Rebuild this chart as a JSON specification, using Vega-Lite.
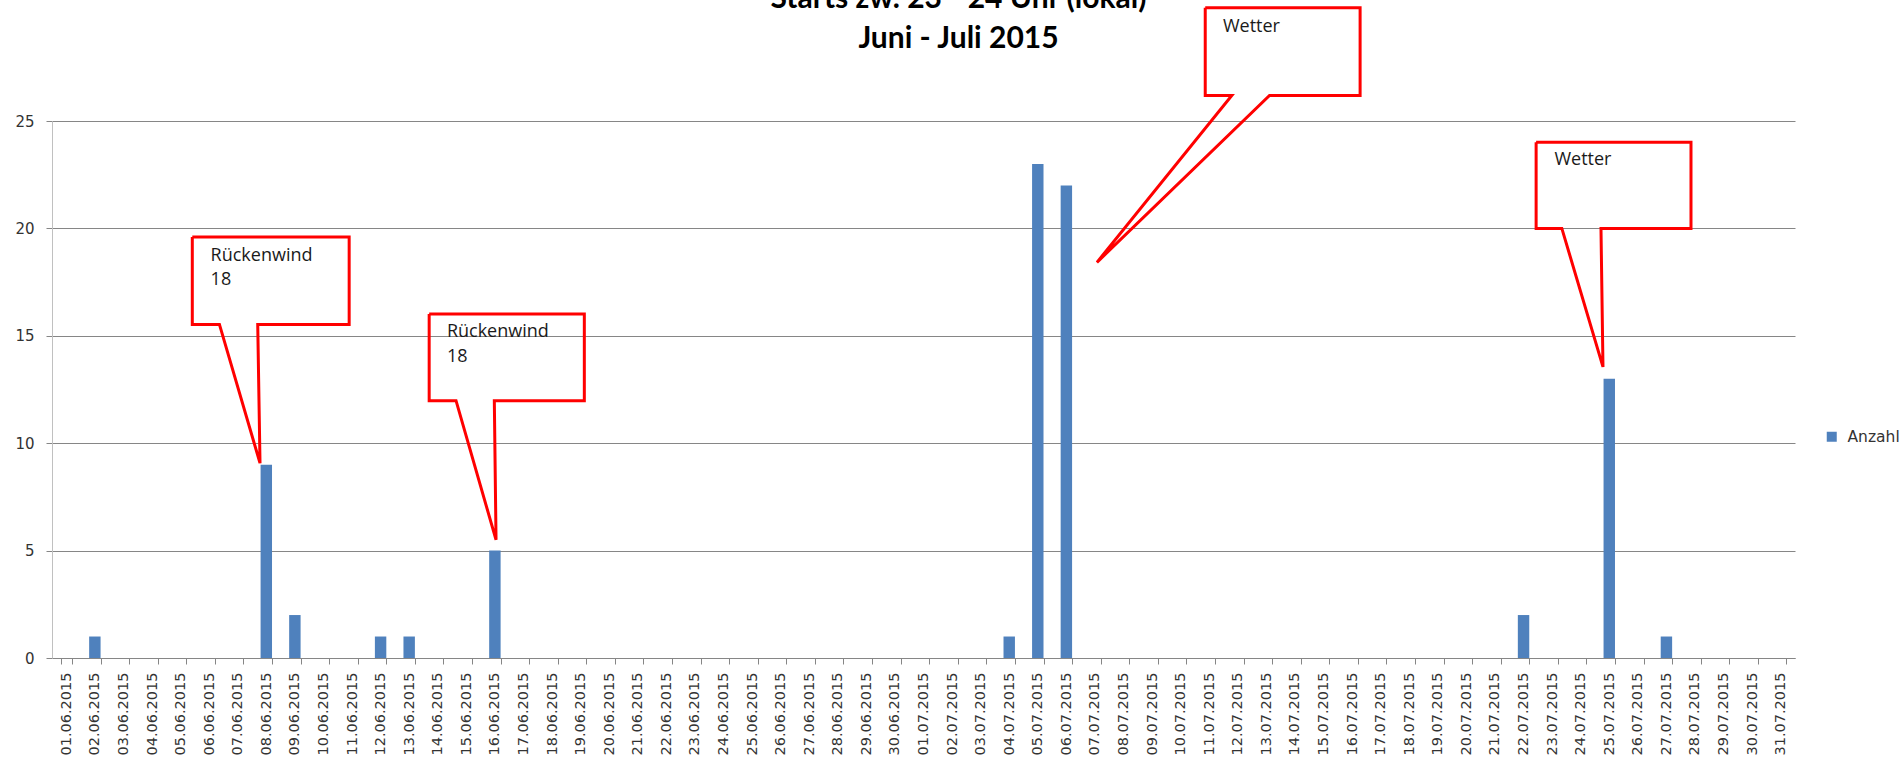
{
  "$schema": "https://vega.github.io/schema/vega-lite/v6.json",
  "autosize": "none",
  "width": 1743,
  "height": 537,
  "padding": {"left": 52, "top": 121, "right": 106, "bottom": 109},
  "background": "white",
  "config": {"view": {"stroke": null}},
  "title": {
    "text": ["Starts zw. 23 - 24 Uhr (lokal)", "Juni - Juli 2015"],
    "font": "Lato",
    "fontSize": 30,
    "fontWeight": "bold",
    "color": "#000000",
    "anchor": "middle",
    "dx": 35,
    "lineHeight": 40,
    "baseline": "alphabetic",
    "offset": -76
  },
  "datasets": {
    "bars": [
      {"Datum": "01.06.2015", "Anzahl": 0},
      {"Datum": "02.06.2015", "Anzahl": 1},
      {"Datum": "03.06.2015", "Anzahl": 0},
      {"Datum": "04.06.2015", "Anzahl": 0},
      {"Datum": "05.06.2015", "Anzahl": 0},
      {"Datum": "06.06.2015", "Anzahl": 0},
      {"Datum": "07.06.2015", "Anzahl": 0},
      {"Datum": "08.06.2015", "Anzahl": 9},
      {"Datum": "09.06.2015", "Anzahl": 2},
      {"Datum": "10.06.2015", "Anzahl": 0},
      {"Datum": "11.06.2015", "Anzahl": 0},
      {"Datum": "12.06.2015", "Anzahl": 1},
      {"Datum": "13.06.2015", "Anzahl": 1},
      {"Datum": "14.06.2015", "Anzahl": 0},
      {"Datum": "15.06.2015", "Anzahl": 0},
      {"Datum": "16.06.2015", "Anzahl": 5},
      {"Datum": "17.06.2015", "Anzahl": 0},
      {"Datum": "18.06.2015", "Anzahl": 0},
      {"Datum": "19.06.2015", "Anzahl": 0},
      {"Datum": "20.06.2015", "Anzahl": 0},
      {"Datum": "21.06.2015", "Anzahl": 0},
      {"Datum": "22.06.2015", "Anzahl": 0},
      {"Datum": "23.06.2015", "Anzahl": 0},
      {"Datum": "24.06.2015", "Anzahl": 0},
      {"Datum": "25.06.2015", "Anzahl": 0},
      {"Datum": "26.06.2015", "Anzahl": 0},
      {"Datum": "27.06.2015", "Anzahl": 0},
      {"Datum": "28.06.2015", "Anzahl": 0},
      {"Datum": "29.06.2015", "Anzahl": 0},
      {"Datum": "30.06.2015", "Anzahl": 0},
      {"Datum": "01.07.2015", "Anzahl": 0},
      {"Datum": "02.07.2015", "Anzahl": 0},
      {"Datum": "03.07.2015", "Anzahl": 0},
      {"Datum": "04.07.2015", "Anzahl": 1},
      {"Datum": "05.07.2015", "Anzahl": 23},
      {"Datum": "06.07.2015", "Anzahl": 22},
      {"Datum": "07.07.2015", "Anzahl": 0},
      {"Datum": "08.07.2015", "Anzahl": 0},
      {"Datum": "09.07.2015", "Anzahl": 0},
      {"Datum": "10.07.2015", "Anzahl": 0},
      {"Datum": "11.07.2015", "Anzahl": 0},
      {"Datum": "12.07.2015", "Anzahl": 0},
      {"Datum": "13.07.2015", "Anzahl": 0},
      {"Datum": "14.07.2015", "Anzahl": 0},
      {"Datum": "15.07.2015", "Anzahl": 0},
      {"Datum": "16.07.2015", "Anzahl": 0},
      {"Datum": "17.07.2015", "Anzahl": 0},
      {"Datum": "18.07.2015", "Anzahl": 0},
      {"Datum": "19.07.2015", "Anzahl": 0},
      {"Datum": "20.07.2015", "Anzahl": 0},
      {"Datum": "21.07.2015", "Anzahl": 0},
      {"Datum": "22.07.2015", "Anzahl": 2},
      {"Datum": "23.07.2015", "Anzahl": 0},
      {"Datum": "24.07.2015", "Anzahl": 0},
      {"Datum": "25.07.2015", "Anzahl": 13},
      {"Datum": "26.07.2015", "Anzahl": 0},
      {"Datum": "27.07.2015", "Anzahl": 1},
      {"Datum": "28.07.2015", "Anzahl": 0},
      {"Datum": "29.07.2015", "Anzahl": 0},
      {"Datum": "30.07.2015", "Anzahl": 0},
      {"Datum": "31.07.2015", "Anzahl": 0}
    ],
    "callouts": [
      {"id": 1, "i": 0, "cx": 4.91, "cy": 19.60},
      {"id": 1, "i": 1, "cx": 10.40, "cy": 19.60},
      {"id": 1, "i": 2, "cx": 10.40, "cy": 15.53},
      {"id": 1, "i": 3, "cx": 7.20, "cy": 15.53},
      {"id": 1, "i": 4, "cx": 7.28, "cy": 9.07},
      {"id": 1, "i": 5, "cx": 5.86, "cy": 15.53},
      {"id": 1, "i": 6, "cx": 4.91, "cy": 15.53},
      {"id": 1, "i": 7, "cx": 4.91, "cy": 19.60},
      {"id": 2, "i": 0, "cx": 13.20, "cy": 16.02},
      {"id": 2, "i": 1, "cx": 18.63, "cy": 16.02},
      {"id": 2, "i": 2, "cx": 18.63, "cy": 11.98},
      {"id": 2, "i": 3, "cx": 15.48, "cy": 11.98},
      {"id": 2, "i": 4, "cx": 15.54, "cy": 5.50},
      {"id": 2, "i": 5, "cx": 14.14, "cy": 11.98},
      {"id": 2, "i": 6, "cx": 13.20, "cy": 11.98},
      {"id": 2, "i": 7, "cx": 13.20, "cy": 16.02},
      {"id": 3, "i": 0, "cx": 40.36, "cy": 30.27},
      {"id": 3, "i": 1, "cx": 45.78, "cy": 30.27},
      {"id": 3, "i": 2, "cx": 45.78, "cy": 26.19},
      {"id": 3, "i": 3, "cx": 42.61, "cy": 26.19},
      {"id": 3, "i": 4, "cx": 36.57, "cy": 18.42},
      {"id": 3, "i": 5, "cx": 41.29, "cy": 26.19},
      {"id": 3, "i": 6, "cx": 40.36, "cy": 26.19},
      {"id": 3, "i": 7, "cx": 40.36, "cy": 30.27},
      {"id": 4, "i": 0, "cx": 51.94, "cy": 24.01},
      {"id": 4, "i": 1, "cx": 57.36, "cy": 24.01},
      {"id": 4, "i": 2, "cx": 57.36, "cy": 20.00},
      {"id": 4, "i": 3, "cx": 54.21, "cy": 20.00},
      {"id": 4, "i": 4, "cx": 54.28, "cy": 13.55},
      {"id": 4, "i": 5, "cx": 52.84, "cy": 20.00},
      {"id": 4, "i": 6, "cx": 51.94, "cy": 20.00},
      {"id": 4, "i": 7, "cx": 51.94, "cy": 24.01}
    ],
    "labels": [
      {"text": "Rückenwind", "cx": 5.55, "cy": 18.47},
      {"text": "18", "cx": 5.55, "cy": 17.35},
      {"text": "Rückenwind", "cx": 13.82, "cy": 14.93},
      {"text": "18", "cx": 13.82, "cy": 13.78},
      {"text": "Wetter", "cx": 40.98, "cy": 29.14},
      {"text": "Wetter", "cx": 52.58, "cy": 22.94}
    ]
  },
  "resolve": {"scale": {"x": "independent", "y": "independent"}},
  "layer": [
    {
      "data": {"name": "bars"},
      "mark": {"type": "bar"},
      "encoding": {
        "x": {
          "field": "Datum",
          "type": "ordinal",
          "sort": null,
          "scale": {"paddingInner": 0.6, "paddingOuter": 0.3},
          "axis": {
            "title": null,
            "labelAngle": -90,
            "labelFont": "DejaVu Sans",
            "labelFontSize": 14.5,
            "labelColor": "#333333",
            "labelPadding": 8,
            "tickBand": "extent",
            "tickSize": 6,
            "tickColor": "#868686",
            "domainColor": "#868686",
            "grid": false
          }
        },
        "y": {
          "field": "Anzahl",
          "type": "quantitative",
          "scale": {"domain": [0, 25], "nice": false},
          "axis": {
            "title": null,
            "values": [0, 5, 10, 15, 20, 25],
            "grid": true,
            "gridColor": "#868686",
            "domainColor": "#c0c0c0",
            "tickColor": "#868686",
            "tickSize": 6,
            "labelPadding": 12,
            "labelFont": "DejaVu Sans",
            "labelFontSize": 15,
            "labelColor": "#333333"
          }
        },
        "color": {
          "datum": "Anzahl",
          "type": "nominal",
          "scale": {"range": ["#4f81bd"]},
          "legend": {
            "title": null,
            "orient": "none",
            "legendX": 1772,
            "legendY": 308,
            "padding": 0,
            "symbolType": "square",
            "symbolSize": 100,
            "symbolStrokeWidth": 0,
            "symbolOpacity": 1,
            "labelFont": "DejaVu Sans",
            "labelFontSize": 15.5,
            "labelColor": "#333333",
            "labelOffset": 8
          }
        }
      }
    },
    {
      "data": {"name": "callouts"},
      "mark": {"type": "line", "color": "#ff0000", "strokeWidth": 3, "strokeJoin": "miter"},
      "encoding": {
        "x": {"field": "cx", "type": "quantitative", "scale": {"domain": [0, 61], "nice": false, "zero": false}, "axis": null},
        "y": {"field": "cy", "type": "quantitative", "scale": {"domain": [0, 25], "nice": false}, "axis": null},
        "order": {"field": "i"},
        "detail": {"field": "id"}
      }
    },
    {
      "data": {"name": "labels"},
      "mark": {"type": "text", "align": "left", "baseline": "alphabetic", "font": "Open Sans", "fontSize": 18, "color": "#1a1a1a"},
      "encoding": {
        "x": {"field": "cx", "type": "quantitative", "scale": {"domain": [0, 61], "nice": false, "zero": false}, "axis": null},
        "y": {"field": "cy", "type": "quantitative", "scale": {"domain": [0, 25], "nice": false}, "axis": null},
        "text": {"field": "text"}
      }
    }
  ]
}
